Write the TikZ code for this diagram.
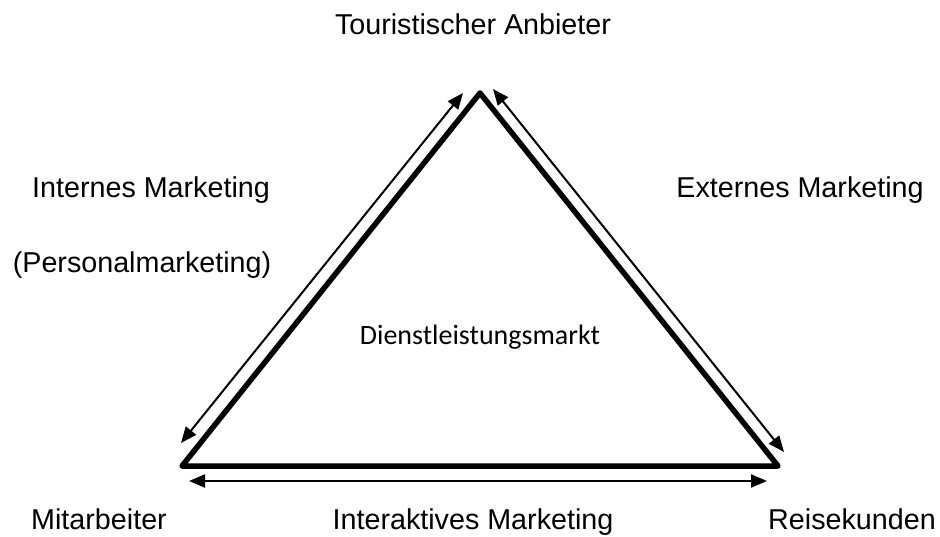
\documentclass[tikz,border=0pt]{standalone}
\usepackage{fontspec}
\setmainfont{Liberation Sans}
\newfontfamily\calibrifont{Carlito}
\usetikzlibrary{arrows.meta}
\begin{document}
\begin{tikzpicture}[x=1pt,y=-1pt,
  label/.style={inner sep=0pt,anchor=base,font=\fontsize{28.7}{34}\selectfont},
  centre/.style={inner sep=0pt,anchor=base,font=\calibrifont\fontsize{28}{34}\selectfont},
  edge/.style={line width=5.5pt,line join=round,line cap=round},
  flow/.style={line width=2pt,{Triangle[length=16pt,width=13pt]}-{Triangle[length=16pt,width=13pt]}}]
\useasboundingbox (0,0) rectangle (940,536);

% corners of the service triangle
\coordinate (top) at (480,93);
\coordinate (bl) at (182,466);
\coordinate (br) at (778,466);
\draw[edge] (top) -- (bl) -- (br) -- cycle;

% ends of the marketing arrows along each side
\coordinate (la) at (181,443);
\coordinate (lb) at (463,93);
\coordinate (ra) at (493,89);
\coordinate (rb) at (784,452);
\coordinate (ba) at (189,481);
\coordinate (bb) at (767,481);
\draw[flow] (la) -- (lb);
\draw[flow] (ra) -- (rb);
\draw[flow] (ba) -- (bb);

% labels
\node[label] (anbieter) at (473,34) {Touristischer Anbieter};
\node[label] (intern) at (151,197) {Internes Marketing};
\node[label] (personal) at (142,272) {(Personalmarketing)};
\node[label] (extern) at (800,197) {Externes Marketing};
\node[centre] (markt) at (480,344) {Dienstleistungsmarkt};
\node[label] (mitarbeiter) at (99,529) {Mitarbeiter};
\node[label] (interaktiv) at (473,529) {Interaktives Marketing};
\node[label] (kunden) at (852,529) {Reisekunden};
\end{tikzpicture}
\end{document}
